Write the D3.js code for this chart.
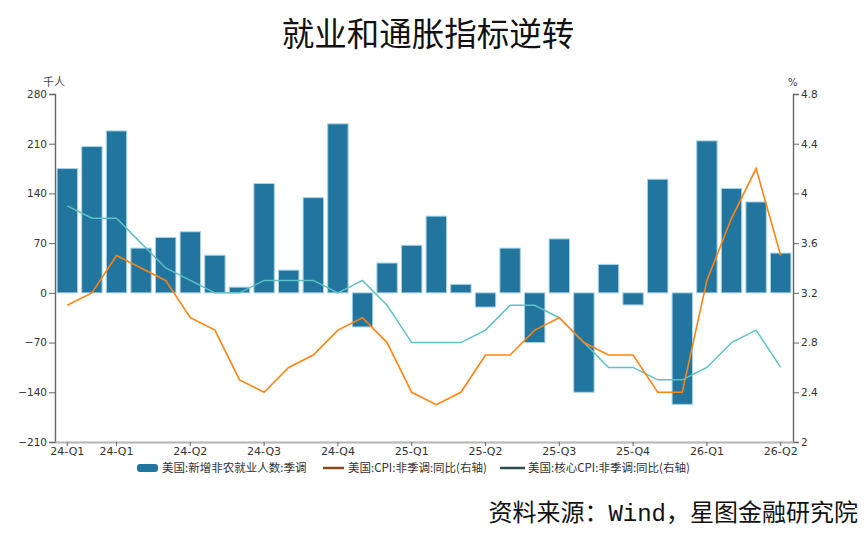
<!DOCTYPE html>
<html>
<head>
<meta charset="utf-8">
<script src="https://cdn.jsdelivr.net/npm/d3@7"></script>
<style>
  body { margin: 0; background: #fff; }
  svg { display: block; }
</style>
</head>
<body>
<div id="chart"></div>
<script>
// monthly data, 24-01 .. 26-06
var months = [
  "24-01","24-02","24-03","24-04","24-05","24-06","24-07","24-08","24-09","24-10",
  "24-11","24-12","25-01","25-02","25-03","25-04","25-05","25-06","25-07","25-08",
  "25-09","25-10","25-11","25-12","26-01","26-02","26-03","26-04","26-05","26-06"
];
// 新增非农就业人数 (千人)
var payrolls = [175, 206, 228, 63, 78, 86, 53, 8, 154, 32,
                134, 238, -48, 42, 67, 108, 12, -20, 63, -70,
                76, -140, 40, -17, 160, -157, 214, 147, 128, 56];
// CPI 同比 (%)
var cpi = [3.1, 3.2, 3.5, 3.4, 3.3, 3.0, 2.9, 2.5, 2.4, 2.6,
           2.7, 2.9, 3.0, 2.8, 2.4, 2.3, 2.4, 2.7, 2.7, 2.9,
           3.0, 2.8, 2.7, 2.7, 2.4, 2.4, 3.3, 3.8, 4.2, 3.5];
// 核心CPI 同比 (%)
var coreCpi = [3.9, 3.8, 3.8, 3.6, 3.4, 3.3, 3.2, 3.2, 3.3, 3.3,
               3.3, 3.2, 3.3, 3.1, 2.8, 2.8, 2.8, 2.9, 3.1, 3.1,
               3.0, 2.8, 2.6, 2.6, 2.5, 2.5, 2.6, 2.8, 2.9, 2.6];
// x-axis labels and the months they sit under
var tickIdx = [0, 2, 5, 8, 11, 14, 17, 20, 23, 26, 29];
var tickLabels = ["24-Q1","24-Q1","24-Q2","24-Q3","24-Q4","25-Q1","25-Q2","25-Q3","25-Q4","26-Q1","26-Q2"];
var leftTicks = [-210, -140, -70, 0, 70, 140, 210, 280];
var rightTicks = [2, 2.4, 2.8, 3.2, 3.6, 4, 4.4, 4.8];
var legendNames = ["美国:新增非农就业人数:季调", "美国:CPI:非季调:同比(右轴)", "美国:核心CPI:非季调:同比(右轴)"];

var width = 865, height = 536;
var margin = { top: 94, right: 72, bottom: 94, left: 55 };

var svg = d3.select("#chart").append("svg")
    .attr("width", width)
    .attr("height", height);

var x = d3.scaleBand()
    .domain(months)
    .range([margin.left, width - margin.right])
    .paddingInner(0.17)
    .paddingOuter(0.085);

var yL = d3.scaleLinear().domain([-210, 280]).range([height - margin.bottom, margin.top]);
var yR = d3.scaleLinear().domain([2, 4.8]).range([height - margin.bottom, margin.top]);

var axisFont = "DejaVu Sans, Verdana, sans-serif";
var cjkFont = "'Noto Sans CJK SC', sans-serif";

// title
svg.append("text")
    .attr("x", 428).attr("y", 46)
    .attr("text-anchor", "middle")
    .attr("font-family", cjkFont)
    .attr("font-size", 32.5)
    .attr("font-weight", 400)
    .attr("fill", "#111")
    .text("就业和通胀指标逆转");

// bars
svg.append("g")
    .selectAll("rect")
    .data(payrolls)
    .enter().append("rect")
    .attr("x", (d, i) => x(months[i]))
    .attr("width", x.bandwidth())
    .attr("y", d => yL(Math.max(0, d)))
    .attr("height", d => Math.abs(yL(d) - yL(0)))
    .attr("fill", "#21759f")
    .attr("stroke", "#a9d3e6")
    .attr("stroke-width", 1);

// lines
var line = d3.line()
    .x((d, i) => x(months[i]) + x.bandwidth() / 2)
    .y(d => yR(d));

svg.append("path")
    .datum(coreCpi)
    .attr("d", line)
    .attr("fill", "none")
    .attr("stroke", "#5ec2c4")
    .attr("stroke-width", 1.5);

svg.append("path")
    .datum(cpi)
    .attr("d", line)
    .attr("fill", "none")
    .attr("stroke", "#ff8412")
    .attr("stroke-width", 1.6);

// axes
var leftAxis = svg.append("g")
    .attr("transform", "translate(" + margin.left + ",0)")
    .call(d3.axisLeft(yL).tickValues(leftTicks).tickSize(6).tickPadding(2));

var rightAxis = svg.append("g")
    .attr("transform", "translate(" + (width - margin.right) + ",0)")
    .call(d3.axisRight(yR).tickValues(rightTicks).tickSize(6).tickPadding(2).tickFormat(d3.format("~g")));

var xAxis = svg.append("g")
    .attr("transform", "translate(0," + (height - margin.bottom) + ")")
    .call(d3.axisBottom(x)
        .tickValues(tickIdx.map(i => months[i]))
        .tickFormat(d => tickLabels[tickIdx.indexOf(months.indexOf(d))])
        .tickSize(4).tickSizeOuter(0).tickPadding(1));

[leftAxis, rightAxis].forEach(g => {
    g.select(".domain").attr("stroke", "#666").attr("stroke-width", 1.4);
    g.selectAll(".tick line").attr("stroke", "#666");
    g.selectAll("text").attr("font-family", axisFont).attr("font-size", 10.5).attr("fill", "#333");
});
xAxis.select(".domain").attr("stroke", "#b4b4b4").attr("stroke-width", 2);
xAxis.selectAll(".tick line").attr("stroke", "#666");
xAxis.selectAll("text").attr("font-family", axisFont).attr("font-size", 11).attr("fill", "#333");

// unit labels
svg.append("text")
    .attr("x", 43).attr("y", 86)
    .attr("font-family", cjkFont).attr("font-size", 11).attr("fill", "#444")
    .text("千人");
svg.append("text")
    .attr("x", 788).attr("y", 86)
    .attr("font-family", axisFont).attr("font-size", 10).attr("fill", "#444")
    .text("%");

// legend
var legY = 468;
var legend = svg.append("g");
legend.append("rect")
    .attr("x", 137).attr("y", legY - 4).attr("width", 21).attr("height", 8)
    .attr("rx", 3).attr("fill", "#21759f");
legend.append("line")
    .attr("x1", 323).attr("x2", 344).attr("y1", legY).attr("y2", legY)
    .attr("stroke", "#8a4a1c").attr("stroke-width", 2.5);
legend.append("line")
    .attr("x1", 500).attr("x2", 525).attr("y1", legY).attr("y2", legY)
    .attr("stroke", "#2f4f4f").attr("stroke-width", 2.5);
legend.selectAll("text.leg")
    .data(legendNames)
    .enter().append("text")
    .attr("class", "leg")
    .attr("x", (d, i) => [162, 348, 528][i])
    .attr("y", legY + 4)
    .attr("font-family", cjkFont).attr("font-size", 11.5).attr("fill", "#333")
    .text(d => d);

// source
var src = svg.append("text")
    .attr("x", 858).attr("y", 521)
    .attr("text-anchor", "end")
    .attr("font-family", cjkFont).attr("font-size", 24).attr("fill", "#111");
src.append("tspan").text("资料来源：");
src.append("tspan").attr("font-family", "'Liberation Mono', 'DejaVu Sans Mono', monospace").text("Wind");
src.append("tspan").text("，星图金融研究院");
</script>
</body>
</html>
